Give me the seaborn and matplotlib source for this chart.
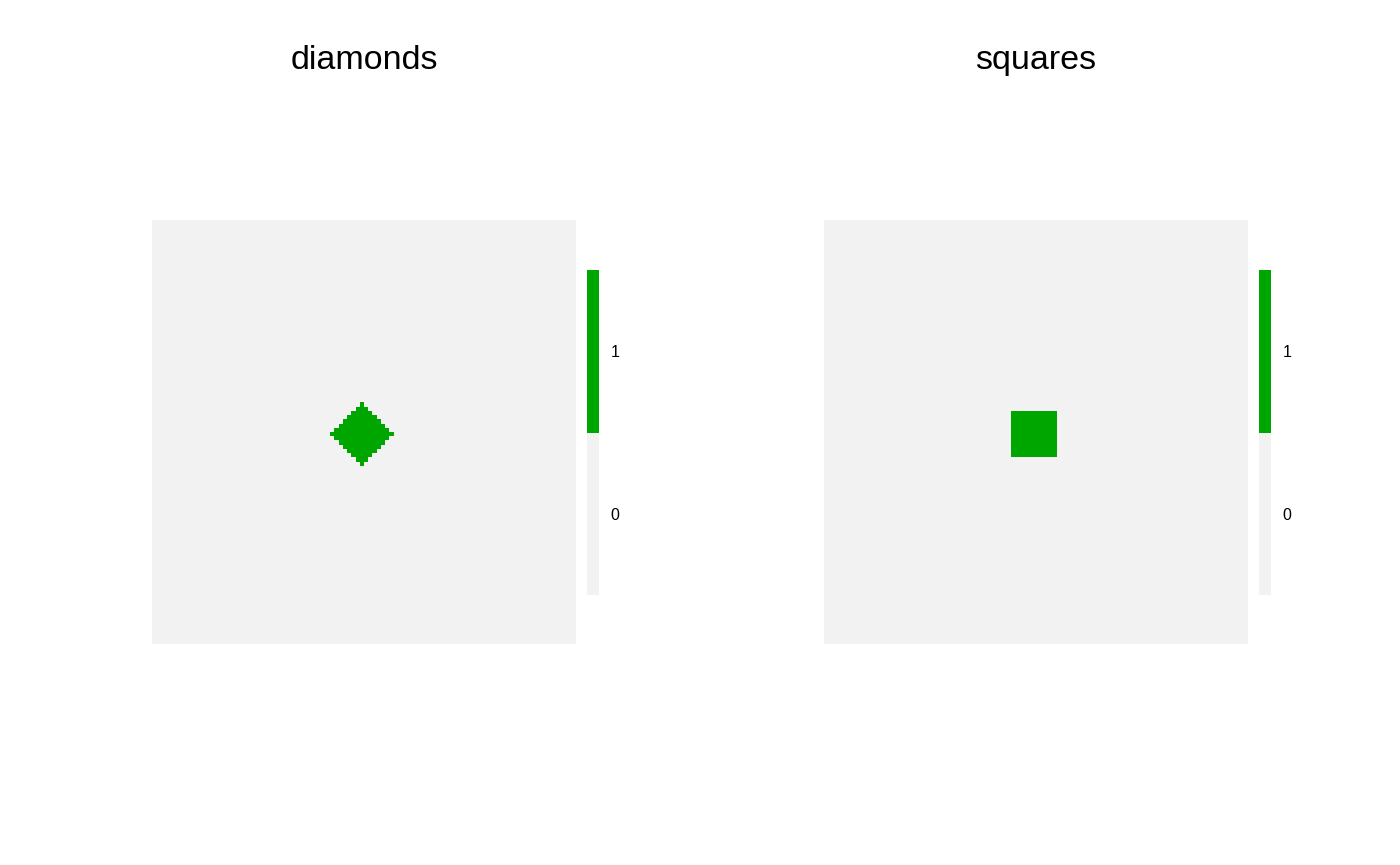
import numpy as np
import pandas as pd
import matplotlib
matplotlib.use("Agg")
import matplotlib.pyplot as plt
from matplotlib.colors import ListedColormap
import seaborn as sns

sns.set_theme(style="white")
plt.rcParams['font.family'] = ['Liberation Sans', 'DejaVu Sans']

# Data: binary 100x100 grids
grid_size = 100
center = [49, 49]          # 0-based cell index (x, y), y counted from bottom
titles = ["diamonds", "squares"]
radii = [7, 5]              # diamond: |dx|+|dy|<=7 ; square: max(|dx|,|dy|)<=5
level_labels = ["0", "1"]
level_colors = ["#F2F2F2", "#00A600"]

ix = np.arange(grid_size)
dx = ix[None, :] - center[0]
dy = ix[:, None] - center[1]
diamond = (np.abs(dx) + np.abs(dy) <= radii[0]).astype(int)
square = (np.maximum(np.abs(dx), np.abs(dy)) <= radii[1]).astype(int)
grids = [diamond, square]

W, H = 1400, 865
fig = plt.figure(figsize=(W / 100, H / 100), dpi=100)
cmap = ListedColormap(level_colors)

panel_left = [152, 824]
for k, (g, t) in enumerate(zip(grids, titles)):
    x0 = panel_left[k]
    ax = fig.add_axes([x0 / W, (H - 644) / H, 424 / W, 424 / H])
    cax = fig.add_axes([(x0 + 435) / W, (H - 595) / H, 12 / W, 325 / H])
    # flip so that row 0 is at the bottom
    df = pd.DataFrame(np.flipud(g))
    sns.heatmap(df, ax=ax, cmap=cmap, vmin=0, vmax=1, cbar=True, cbar_ax=cax,
                xticklabels=False, yticklabels=False, square=False,
                linewidths=0, rasterized=True)
    ax.set_xlabel("")
    ax.set_ylabel("")
    for s in ax.spines.values():
        s.set_visible(False)
    cb = ax.collections[0].colorbar
    cb.set_ticks([0.25, 0.75])
    cb.set_ticklabels(level_labels)
    cb.outline.set_visible(False)
    cax.tick_params(length=0, labelsize=11.5, pad=8.5, colors="black")
    fig.text((x0 + 212) / W, 1 - 69 / H, t, ha="center", va="baseline",
             fontsize=24.5, color="black")

fig.savefig("out.png", dpi=100, facecolor="white")
